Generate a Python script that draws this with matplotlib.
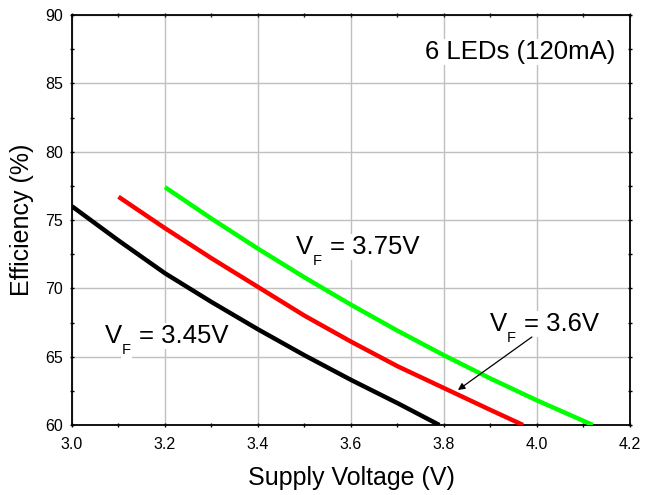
import matplotlib
matplotlib.use("Agg")
import matplotlib.pyplot as plt
from matplotlib.ticker import MultipleLocator

plt.rcParams['font.family'] = ['Liberation Sans', 'DejaVu Sans']

# Data
volt_345 = [3.0, 3.1, 3.2, 3.3, 3.4, 3.5, 3.6, 3.7, 3.79]
eff_345 = [76.0, 73.5, 71.1, 69.0, 67.0, 65.1, 63.3, 61.6, 60.0]

volt_360 = [3.1, 3.2, 3.3, 3.4, 3.5, 3.6, 3.7, 3.8, 3.9, 3.97]
eff_360 = [76.7, 74.4, 72.2, 70.1, 68.0, 66.1, 64.3, 62.7, 61.1, 60.0]

volt_375 = [3.2, 3.3, 3.4, 3.5, 3.6, 3.7, 3.8, 3.9, 4.0, 4.12]
eff_375 = [77.4, 75.1, 72.9, 70.8, 68.8, 66.9, 65.1, 63.4, 61.8, 60.0]

x_ticks = [3.0, 3.2, 3.4, 3.6, 3.8, 4.0, 4.2]
x_tick_labels = ["3.0", "3.2", "3.4", "3.6", "3.8", "4.0", "4.2"]
y_ticks = [60, 65, 70, 75, 80, 85, 90]
y_tick_labels = ["60", "65", "70", "75", "80", "85", "90"]

fig = plt.figure(figsize=(6.55, 4.95), dpi=100)
ax = fig.add_axes([72 / 655, 1 - 425 / 495, (630 - 72) / 655, (425 - 15) / 495])

ax.set_xlim(3.0, 4.2)
ax.set_ylim(60, 90)
ax.set_xticks(x_ticks)
ax.set_xticklabels(x_tick_labels)
ax.set_yticks(y_ticks)
ax.set_yticklabels(y_tick_labels)
ax.xaxis.set_minor_locator(MultipleLocator(0.1))
ax.yaxis.set_minor_locator(MultipleLocator(2.5))

ax.grid(True, which='major', color='#c0c0c0', linewidth=1.0)
ax.set_axisbelow(True)

ax.tick_params(which='both', direction='inout', top=True, right=True,
               labelsize=11.5, width=1.0, length=3, color='black')
ax.tick_params(axis='x', pad=7)
ax.tick_params(axis='y', pad=5)

for s in ax.spines.values():
    s.set_linewidth(1.3)

ax.plot(volt_345, eff_345, color='#000000', lw=3.2, solid_capstyle='butt', zorder=3)
ax.plot(volt_360, eff_360, color='#ff0000', lw=3.2, solid_capstyle='butt', zorder=3)
ax.plot(volt_375, eff_375, color='#00ff00', lw=3.2, solid_capstyle='butt', zorder=3)

ax.set_xlabel("Supply Voltage (V)", fontsize=18, labelpad=10)
ax.set_ylabel("Efficiency (%)", fontsize=18, labelpad=8)

bb = dict(facecolor='white', edgecolor='none', pad=1)
ax.text(4.168, 86.78, "6 LEDs (120mA)", fontsize=18.5, ha='right', va='baseline', bbox=bb, zorder=4)


def vf_label(x, y, value):
    # "V" + subscript "F" + " = value", composed with point offsets
    ax.annotate("V", xy=(x, y), xytext=(0, 0), textcoords='offset points',
                fontsize=18.5, ha='left', va='baseline', bbox=bb, zorder=4)
    ax.annotate("F", xy=(x, y), xytext=(12.2, -8.0), textcoords='offset points',
                fontsize=10.5, ha='left', va='baseline', bbox=bb, zorder=4)
    ax.annotate("= " + value, xy=(x, y), xytext=(24.5, 0), textcoords='offset points',
                fontsize=18.5, ha='left', va='baseline', bbox=bb, zorder=4)


vf_label(3.482, 72.51, "3.75V")
vf_label(3.071, 66.0, "3.45V")
vf_label(3.899, 66.88, "3.6V")

ax.annotate("", xy=(3.830, 62.56), xytext=(3.989, 66.44),
            arrowprops=dict(arrowstyle='-|>', color='black', lw=0.9,
                            mutation_scale=10, shrinkA=0, shrinkB=0),
            zorder=5)

fig.savefig("out.png", dpi=100)
